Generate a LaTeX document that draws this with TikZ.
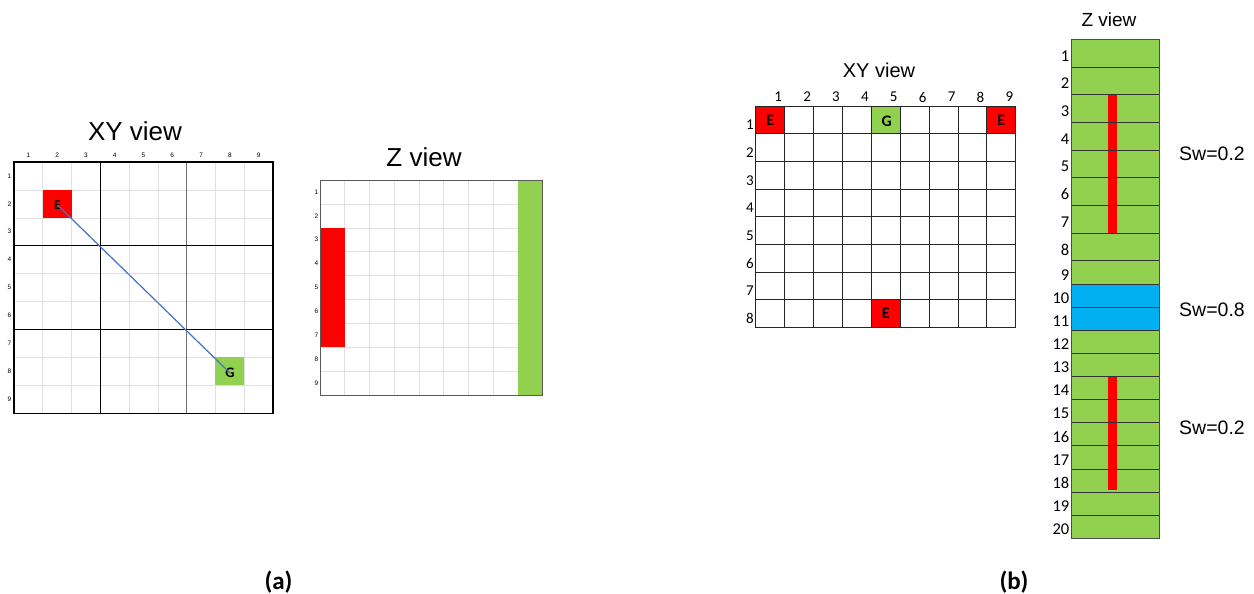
\documentclass[tikz,border=0pt]{standalone}
\usepackage{fontspec}
\setmainfont{Liberation Sans}
\newfontfamily\calfont{Carlito}
\definecolor{gfill}{RGB}{146,208,80}
\definecolor{rfill}{RGB}{255,0,0}
\definecolor{bfill}{RGB}{0,176,240}
\definecolor{pathblue}{RGB}{68,114,196}
\tikzset{
  title/.style={inner sep=0pt,font=\fontsize{#1}{#1}\selectfont},
  tiny lab/.style={inner sep=0pt,font=\fontsize{6.5}{7}\selectfont},
  cal lab/.style={inner sep=0pt,font=\calfont\fontsize{#1}{#1}\selectfont},
  cellmark/.style={inner sep=0pt,font=\calfont\bfseries\fontsize{#1}{#1}\selectfont},
  lightgrid/.style={draw=black!12,line width=0.6pt},
}
\begin{document}
\begin{tikzpicture}[x=1pt,y=-1pt]
\useasboundingbox (0,0) rectangle (1254,594);
\fill[white] (0,0) rectangle (1254,594);

%% ---------- (a) XY view ----------
\def\ax{14}\def\ay{162}\def\acw{28.78}\def\ach{27.9}
\foreach \i in {1,...,8}{
  \draw[lightgrid] ({\ax+\i*\acw},\ay) -- ({\ax+\i*\acw},{\ay+9*\ach});
  \draw[lightgrid] (\ax,{\ay+\i*\ach}) -- ({\ax+9*\acw},{\ay+\i*\ach});
}
\fill[rfill] ({\ax+1*\acw},{\ay+1*\ach}) rectangle ({\ax+2*\acw},{\ay+2*\ach});
\fill[gfill] ({\ax+7*\acw},{\ay+7*\ach}) rectangle ({\ax+8*\acw},{\ay+8*\ach});
\draw[black,line width=1pt] ({\ax+3*\acw},\ay) -- ({\ax+3*\acw},{\ay+9*\ach});
\draw[black!55,line width=1.3pt] ({\ax+6*\acw},\ay) -- ({\ax+6*\acw},{\ay+9*\ach});
\draw[black,line width=1.1pt] (\ax,{\ay+3*\ach}) -- ({\ax+9*\acw},{\ay+3*\ach});
\draw[black,line width=1.1pt] (\ax,{\ay+6*\ach}) -- ({\ax+9*\acw},{\ay+6*\ach});
\draw[black,line width=1.2pt] (\ax,\ay) rectangle ({\ax+9*\acw},{\ay+9*\ach});
\foreach \i in {1,...,9}{
  \node[tiny lab] (acol\i) at ({\ax+(\i-0.5)*\acw},155) {\i};
  \node[tiny lab] (arow\i) at (9.5,{\ay+(\i-0.5)*\ach}) {\i};
}
\node[cellmark=13.5] (E1) at (57.5,205) {E};
\node[cellmark=14.5] (G1) at (230,373) {G};
\draw[pathblue,line width=1.2pt] (E1.center) -- (G1.center);
\node[title=26] (axyt) at (135,131) {XY view};

%% ---------- (a) Z view ----------
\def\bx{320}\def\by{180}\def\bcw{24.74}\def\bch{23.9}
\foreach \i in {1,...,8}{
  \draw[lightgrid] ({\bx+\i*\bcw},\by) -- ({\bx+\i*\bcw},{\by+9*\bch});
  \draw[lightgrid] (\bx,{\by+\i*\bch}) -- ({\bx+9*\bcw},{\by+\i*\bch});
}
\fill[rfill] (\bx,{\by+2*\bch}) rectangle ({\bx+\bcw},{\by+7*\bch});
\fill[gfill] ({\bx+8*\bcw},\by) rectangle ({\bx+9*\bcw},{\by+9*\bch});
\draw[black!65,line width=1pt] (\bx,\by) rectangle ({\bx+9*\bcw},{\by+9*\bch});
\foreach \i in {1,...,9}{
  \node[tiny lab] (brow\i) at (316.5,{\by+(\i-0.5)*\bch}) {\i};
}
\node[title=26] (azt) at (424,157) {Z view};

%% ---------- (b) XY view ----------
\def\cx{755.7}\def\cy{106}\def\ccw{28.9}\def\cch{27.7}
\fill[rfill] (\cx,\cy) rectangle ({\cx+\ccw},{\cy+\cch});
\fill[gfill] ({\cx+4*\ccw},\cy) rectangle ({\cx+5*\ccw},{\cy+\cch});
\fill[rfill] ({\cx+8*\ccw},\cy) rectangle ({\cx+9*\ccw},{\cy+\cch});
\fill[rfill] ({\cx+4*\ccw},{\cy+7*\cch}) rectangle ({\cx+5*\ccw},{\cy+8*\cch});
\foreach \i in {0,...,9}{
  \draw[black!85,line width=0.9pt] ({\cx+\i*\ccw},\cy) -- ({\cx+\i*\ccw},{\cy+8*\cch});
}
\foreach \i in {0,...,8}{
  \draw[black!85,line width=0.9pt] (\cx,{\cy+\i*\cch}) -- ({\cx+9*\ccw},{\cy+\i*\cch});
}
\foreach \i in {1,...,9}{
  \node[cal lab=15] (ccol\i) at ({\cx+(\i-0.5)*\ccw+8},97) {\i};
}
\foreach \i in {1,...,8}{
  \node[cal lab=15] (crow\i) at (750,{\cy+(\i-0.5)*\cch+5}) {\i};
}
\node[cellmark=16] (E2) at ({\cx+0.5*\ccw},{\cy+0.5*\cch}) {E};
\node[cellmark=16] (G2) at ({\cx+4.5*\ccw+1},{\cy+0.5*\cch+1}) {G};
\node[cellmark=16] (E3) at ({\cx+8.5*\ccw},{\cy+0.5*\cch}) {E};
\node[cellmark=16] (E4) at ({\cx+4.5*\ccw},{\cy+7.5*\cch}) {E};
\node[title=20] (bxyt) at (879,70) {XY view};

%% ---------- (b) Z view ----------
\def\dxl{1071}\def\dxr{1159}
\fill[gfill] (\dxl,39.3) rectangle (\dxr,538.3);
\fill[bfill] (\dxl,284) rectangle (\dxr,330.3);
\fill[rfill] (1108.3,94.7) rectangle (1117.3,232.7);
\fill[rfill] (1108.3,376) rectangle (1117.3,490);
\foreach \yy in {67,94.7,122.4,150.1,177.8,205.5,233.2,260.9,284,307.1,330.3,353.4,376.5,399.6,422.7,445.9,469,492.1,515.2}{
  \draw[black!80,line width=0.9pt] (\dxl,\yy) -- (\dxr,\yy);
}
\draw[black!70,line width=1pt] (\dxl,39.3) rectangle (\dxr,538.3);
\foreach \n/\yy in {1/53.2,2/80.9,3/108.6,4/136.3,5/164,6/191.7,7/219.4,8/247.1,9/272.5,10/295.6,11/318.7,12/341.9,13/365,14/388.1,15/411.2,16/434.3,17/457.5,18/480.6,19/503.7,20/526.8}{
  \node[cal lab=16.5,anchor=east] (drow\n) at (1069.5,{\yy+2.5}) {\n};
}
\node[title=19] (bzt) at (1109,20) {Z view};
\node[title=19.5] (sw1) at (1212,154) {Sw=0.2};
\node[title=19.5] (sw2) at (1212,310) {Sw=0.8};
\node[title=19.5] (sw3) at (1212,428) {Sw=0.2};

%% ---------- captions ----------
\node[cellmark=25] (capa) at (278.5,582) {(a)};
\node[cellmark=25] (capb) at (1014,582) {(b)};
\end{tikzpicture}
\end{document}
